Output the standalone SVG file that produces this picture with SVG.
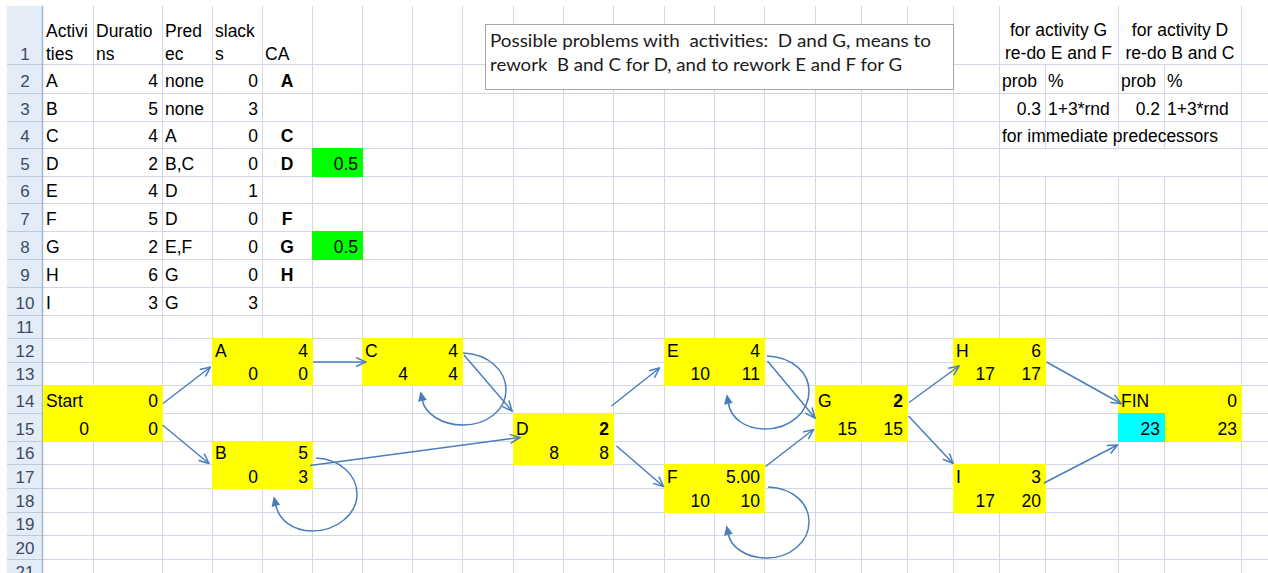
<svg xmlns="http://www.w3.org/2000/svg" width="1268" height="573" viewBox="0 0 1268 573">
  <defs>
    <style>
      .c { font-family: "Liberation Sans", Arial, sans-serif; font-size: 17.5px; fill: #000; }
      .e { text-anchor: end; }
      .m { text-anchor: middle; }
      .b { font-weight: bold; }
      .rh { font-family: "Liberation Sans", Arial, sans-serif; font-size: 17px; fill: #3b4b63; text-anchor: middle; }
      .grid { stroke: #d0d7e5; stroke-width: 1; fill: none; }
      .hgrid { stroke: #bccadb; stroke-width: 1; fill: none; }
      .yl { fill: #ffff00; }
      .conn { stroke: #4a7ebb; stroke-width: 1.5; fill: none; }
      .arrow { marker-end: url(#open); }
      .loop { marker-end: url(#solid); }
      .note { font-family: Lato, "Open Sans", sans-serif; font-size: 17px; fill: #1a1a1a; white-space: pre; }
    </style>
    <marker id="open" markerUnits="userSpaceOnUse" viewBox="0 0 12 10" refX="11" refY="5" markerWidth="12" markerHeight="10" orient="auto">
      <path d="M1,0.5 L11,5 L1,9.5" fill="none" stroke="#4a7ebb" stroke-width="1.5"/>
    </marker>
    <marker id="solid" markerUnits="userSpaceOnUse" viewBox="0 0 10 9" refX="0" refY="4.5" markerWidth="10" markerHeight="9" orient="auto">
      <path d="M0,0 L10,4.5 L0,9 z" fill="#4a7ebb"/>
    </marker>
  </defs>

  <rect width="1268" height="573" fill="#fff"/>

  <!-- worksheet grid -->
  <g id="grid">
    <path class="grid" d="M43 64.5H1268 M43 93.5H1268 M43 121.5H1268 M43 148.5H1268 M43 176.5H1268 M43 203.5H1268 M43 231.5H1268 M43 259.5H1268 M43 287.5H1268 M43 315.5H1268 M43 338.5H1268 M43 362.5H1268 M43 385.5H1268 M43 413.5H1268 M43 441.5H1268 M43 464.5H1268 M43 488.5H1268 M43 512.5H1268 M43 535.5H1268 M43 559.5H1268"/>
    <path class="grid" d="M93.5 6V573 M162.5 6V573 M212.5 6V573 M262.5 6V573 M312.5 6V573 M362.5 6V573 M412.5 6V573 M462.5 6V573 M513.5 6V573 M563.5 6V573 M613.5 6V573 M664.5 6V573 M714.5 6V573 M764.5 6V573 M815.5 6V573 M861.5 6V573 M907.5 6V573 M953.5 6V573 M999.5 6V573 M1045.5 64V148 M1045.5 176V573 M1118.5 6V148 M1118.5 176V573 M1164.5 64V148 M1164.5 176V573 M1241.5 6V573"/>
  </g>

  <!-- row headers -->
  <g id="row-headers">
    <rect x="7" y="6" width="36" height="567" fill="#e4ecf7"/>
    <path class="hgrid" d="M7 64.5H43 M7 93.5H43 M7 121.5H43 M7 148.5H43 M7 176.5H43 M7 203.5H43 M7 231.5H43 M7 259.5H43 M7 287.5H43 M7 315.5H43 M7 338.5H43 M7 362.5H43 M7 385.5H43 M7 413.5H43 M7 441.5H43 M7 464.5H43 M7 488.5H43 M7 512.5H43 M7 535.5H43 M7 559.5H43"/>
    <path d="M42.5 6V573" stroke="#9eb6ce" stroke-width="1.5"/>
    <text class="rh" x="25" y="60">1</text>
    <text class="rh" x="25" y="87">2</text>
    <text class="rh" x="25" y="115">3</text>
    <text class="rh" x="25" y="142">4</text>
    <text class="rh" x="25" y="170">5</text>
    <text class="rh" x="25" y="197">6</text>
    <text class="rh" x="25" y="225">7</text>
    <text class="rh" x="25" y="253">8</text>
    <text class="rh" x="25" y="281">9</text>
    <text class="rh" x="25" y="309">10</text>
    <text class="rh" x="25" y="333">11</text>
    <text class="rh" x="25" y="357">12</text>
    <text class="rh" x="25" y="380">13</text>
    <text class="rh" x="25" y="407">14</text>
    <text class="rh" x="25" y="435">15</text>
    <text class="rh" x="25" y="459">16</text>
    <text class="rh" x="25" y="483">17</text>
    <text class="rh" x="25" y="507">18</text>
    <text class="rh" x="25" y="530">19</text>
    <text class="rh" x="25" y="554">20</text>
    <text class="rh" x="25" y="578">21</text>
  </g>

  <!-- activity table -->
  <g id="activity-table">
    <text class="c" x="46" y="37">Activi</text>
    <text class="c" x="46" y="60">ties</text>
    <text class="c" x="96" y="37">Duratio</text>
    <text class="c" x="96" y="60">ns</text>
    <text class="c" x="165" y="37">Pred</text>
    <text class="c" x="165" y="60">ec</text>
    <text class="c" x="215" y="37">slack</text>
    <text class="c" x="215" y="60">s</text>
    <text class="c" x="265" y="60">CA</text>

    <text class="c" x="46" y="87">A</text><text class="c e" x="158" y="87">4</text><text class="c" x="165" y="87">none</text><text class="c e" x="258" y="87">0</text><text class="c b m" x="287" y="87">A</text>
    <text class="c" x="46" y="115">B</text><text class="c e" x="158" y="115">5</text><text class="c" x="165" y="115">none</text><text class="c e" x="258" y="115">3</text>
    <text class="c" x="46" y="142">C</text><text class="c e" x="158" y="142">4</text><text class="c" x="165" y="142">A</text><text class="c e" x="258" y="142">0</text><text class="c b m" x="287" y="142">C</text>
    <text class="c" x="46" y="170">D</text><text class="c e" x="158" y="170">2</text><text class="c" x="165" y="170">B,C</text><text class="c e" x="258" y="170">0</text><text class="c b m" x="287" y="170">D</text>
    <text class="c" x="46" y="197">E</text><text class="c e" x="158" y="197">4</text><text class="c" x="165" y="197">D</text><text class="c e" x="258" y="197">1</text>
    <text class="c" x="46" y="225">F</text><text class="c e" x="158" y="225">5</text><text class="c" x="165" y="225">D</text><text class="c e" x="258" y="225">0</text><text class="c b m" x="287" y="225">F</text>
    <text class="c" x="46" y="253">G</text><text class="c e" x="158" y="253">2</text><text class="c" x="165" y="253">E,F</text><text class="c e" x="258" y="253">0</text><text class="c b m" x="287" y="253">G</text>
    <text class="c" x="46" y="281">H</text><text class="c e" x="158" y="281">6</text><text class="c" x="165" y="281">G</text><text class="c e" x="258" y="281">0</text><text class="c b m" x="287" y="281">H</text>
    <text class="c" x="46" y="309">I</text><text class="c e" x="158" y="309">3</text><text class="c" x="165" y="309">G</text><text class="c e" x="258" y="309">3</text>

    <rect x="312" y="148" width="51" height="29" fill="#00ff00"/>
    <text class="c e" x="358" y="170">0.5</text>
    <rect x="312" y="231" width="51" height="29" fill="#00ff00"/>
    <text class="c e" x="358" y="253">0.5</text>
  </g>

  <!-- rework parameters -->
  <g id="rework-table">
    <text class="c m" x="1058.5" y="36">for activity G</text>
    <text class="c m" x="1058.5" y="59">re-do E and F</text>
    <text class="c m" x="1180" y="36">for activity D</text>
    <text class="c m" x="1180" y="59">re-do B and C</text>
    <text class="c" x="1002" y="87">prob</text>
    <text class="c" x="1048" y="87">%</text>
    <text class="c" x="1121" y="87">prob</text>
    <text class="c" x="1167" y="87">%</text>
    <text class="c e" x="1041" y="115">0.3</text>
    <text class="c" x="1048" y="115">1+3*rnd</text>
    <text class="c e" x="1160" y="115">0.2</text>
    <text class="c" x="1167" y="115">1+3*rnd</text>
    <text class="c" x="1002" y="142">for immediate predecessors</text>
  </g>

  <!-- note box -->
  <g id="note">
    <rect x="485.5" y="24.5" width="468" height="65" fill="#fff" stroke="#a5a5a5"/>
    <text class="note" x="490" y="47" textLength="441" lengthAdjust="spacingAndGlyphs">Possible problems with  activities:  D and G, means to</text>
    <text class="note" x="490" y="71" textLength="412" lengthAdjust="spacingAndGlyphs">rework  B and C for D, and to rework E and F for G</text>
  </g>

  <!-- network nodes -->
  <g id="node-start">
    <rect class="yl" x="43" y="385" width="120" height="57"/>
    <text class="c" x="46" y="407">Start</text>
    <text class="c e" x="158" y="407">0</text>
    <text class="c e" x="89" y="435">0</text>
    <text class="c e" x="158" y="435">0</text>
  </g>
  <g id="node-a">
    <rect class="yl" x="212" y="338" width="101" height="48"/>
    <text class="c" x="215" y="357">A</text>
    <text class="c e" x="308" y="357">4</text>
    <text class="c e" x="258" y="380">0</text>
    <text class="c e" x="308" y="380">0</text>
  </g>
  <g id="node-b">
    <rect class="yl" x="212" y="441" width="101" height="48"/>
    <text class="c" x="215" y="459">B</text>
    <text class="c e" x="308" y="459">5</text>
    <text class="c e" x="258" y="483">0</text>
    <text class="c e" x="308" y="483">3</text>
  </g>
  <g id="node-c">
    <rect class="yl" x="362" y="338" width="101" height="48"/>
    <text class="c" x="365" y="357">C</text>
    <text class="c e" x="458" y="357">4</text>
    <text class="c e" x="408" y="380">4</text>
    <text class="c e" x="458" y="380">4</text>
  </g>
  <g id="node-d">
    <rect class="yl" x="513" y="413" width="101" height="52"/>
    <text class="c" x="516" y="435">D</text>
    <text class="c e b" x="609" y="435">2</text>
    <text class="c e" x="559" y="459">8</text>
    <text class="c e" x="609" y="459">8</text>
  </g>
  <g id="node-e">
    <rect class="yl" x="664" y="338" width="101" height="48"/>
    <text class="c" x="667" y="357">E</text>
    <text class="c e" x="760" y="357">4</text>
    <text class="c e" x="710" y="380">10</text>
    <text class="c e" x="760" y="380">11</text>
  </g>
  <g id="node-f">
    <rect class="yl" x="664" y="464" width="101" height="49"/>
    <text class="c" x="667" y="483">F</text>
    <text class="c e" x="760" y="483">5.00</text>
    <text class="c e" x="710" y="507">10</text>
    <text class="c e" x="760" y="507">10</text>
  </g>
  <g id="node-g">
    <rect class="yl" x="815" y="385" width="93" height="57"/>
    <text class="c" x="818" y="407">G</text>
    <text class="c e b" x="903" y="407">2</text>
    <text class="c e" x="857" y="435">15</text>
    <text class="c e" x="903" y="435">15</text>
  </g>
  <g id="node-h">
    <rect class="yl" x="953" y="338" width="93" height="48"/>
    <text class="c" x="956" y="357">H</text>
    <text class="c e" x="1041" y="357">6</text>
    <text class="c e" x="995" y="380">17</text>
    <text class="c e" x="1041" y="380">17</text>
  </g>
  <g id="node-i">
    <rect class="yl" x="953" y="464" width="93" height="49"/>
    <text class="c" x="956" y="483">I</text>
    <text class="c e" x="1041" y="483">3</text>
    <text class="c e" x="995" y="507">17</text>
    <text class="c e" x="1041" y="507">20</text>
  </g>
  <g id="node-fin">
    <rect class="yl" x="1118" y="385" width="124" height="57"/>
    <rect x="1118" y="413" width="47" height="29" fill="#00ffff"/>
    <text class="c" x="1121" y="407">FIN</text>
    <text class="c e" x="1237" y="407">0</text>
    <text class="c e" x="1160" y="435">23</text>
    <text class="c e" x="1237" y="435">23</text>
  </g>

  <!-- connectors -->
  <g id="connectors">
    <path class="conn arrow" d="M163,403.5 L210.5,367"/>
    <path class="conn arrow" d="M162.5,425 L209,463.5"/>
    <path class="conn arrow" d="M313,362 L366,362"/>
    <path class="conn arrow" d="M310,465.5 L520,437.5"/>
    <path class="conn arrow" d="M464,355 L512,411"/>
    <path class="conn arrow" d="M611.5,406 L659.5,368"/>
    <path class="conn arrow" d="M616.5,446 L663.5,486.5"/>
    <path class="conn arrow" d="M767.5,361 L815,418"/>
    <path class="conn arrow" d="M765.5,466.5 L813.5,429.5"/>
    <path class="conn arrow" d="M909,402.5 L959,366"/>
    <path class="conn arrow" d="M908.5,416 L953,463.5"/>
    <path class="conn arrow" d="M1046.5,362 L1121,403.5"/>
    <path class="conn arrow" d="M1044,483 L1117.5,445"/>

    <!-- rework loops -->
    <path class="conn loop" d="M316,458 C340,459 357,475 357,494 C357,514 337,531 312,531 C292,531 279,519 276,506"/>
    <path class="conn loop" d="M463,353 C489,354 506,371 506,390 C506,410 487,425 463,425 C441,425 425,413 422.5,401"/>
    <path class="conn loop" d="M767,356 C793,357 809,373 809,391 C809,412 790,429 765,429 C745,429 731,418 728.5,404"/>
    <path class="conn loop" d="M768,487 C794,488 809,504 809,522 C809,542 790,558 767,558 C746,558 731,547 728.5,535"/>
  </g>
</svg>
